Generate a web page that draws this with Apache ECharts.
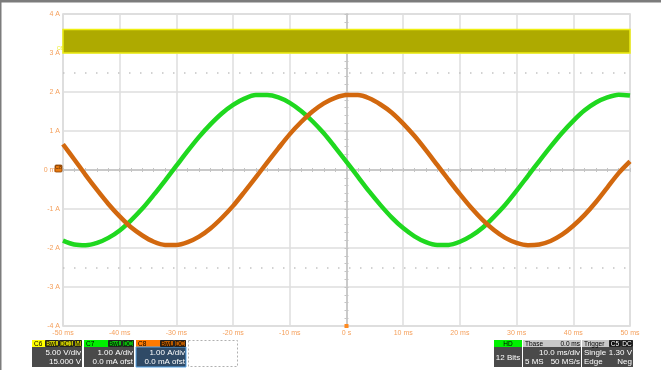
<!DOCTYPE html>
<html>
<head>
<meta charset="utf-8">
<script src="https://cdn.jsdelivr.net/npm/echarts@6/dist/echarts.min.js"></script>
<style>
  html, body { margin: 0; padding: 0; background: #fff; }
  #main { width: 661px; height: 370px; }
</style>
</head>
<body>
<div id="main"></div>
<script>
// time axis (ms) and traces
var times = [-50, -48, -46, -44, -42, -40, -38, -36, -34, -32, -30, -28, -26, -24, -22, -20, -18, -16, -14, -12, -10,
    -8, -6, -4, -2, 0, 2, 4, 6, 8, 10, 12, 14, 16, 18, 20, 22, 24, 26, 28, 30, 32, 34, 36, 38, 40, 42, 44, 46, 48, 50];
// C7 (green), A
var c7 = [-1.81, -1.91, -1.93, -1.87, -1.74, -1.55, -1.29, -0.99, -0.64, -0.27, 0.11, 0.49, 0.85, 1.17, 1.45, 1.67,
    1.83, 1.92, 1.92, 1.86, 1.72, 1.51, 1.25, 0.94, 0.58, 0.21, -0.17, -0.55, -0.90, -1.22, -1.49, -1.70, -1.85, -1.92,
    -1.92, -1.84, -1.69, -1.48, -1.20, -0.89, -0.53, -0.15, 0.23, 0.60, 0.95, 1.26, 1.53, 1.73, 1.86, 1.93, 1.91];
// C8 (orange), A
var c8 = [0.66, 0.27, -0.13, -0.51, -0.87, -1.19, -1.47, -1.68, -1.84, -1.92, -1.92, -1.85, -1.71, -1.50, -1.23, -0.92,
    -0.56, -0.19, 0.19, 0.56, 0.92, 1.23, 1.50, 1.71, 1.85, 1.92, 1.92, 1.84, 1.68, 1.47, 1.19, 0.87, 0.51, 0.13, -0.25,
    -0.62, -0.97, -1.28, -1.54, -1.74, -1.87, -1.93, -1.91, -1.82, -1.66, -1.43, -1.15, -0.82, -0.45, -0.08, 0.22];
// C6 (yellow) band, shown on the A scale
var c6Low = 3.0;
var c6High = 3.6;
// dotted level lines
var levels = [2.5, -2.5];

var xMin = -50, xMax = 50, xStep = 10;
var yMin = -4, yMax = 4, yStep = 1;

function pairs(vals) {
    return times.map(function (t, i) { return [t, vals[i]]; });
}

var labelColor = '#f5a05c';
var myChart = echarts.init(document.getElementById('main'));

var centerAxisX = function (inside) {
    return {
        type: 'value', min: xMin, max: xMax, interval: xStep,
        axisLine: {show: true, onZero: true, onZeroAxisIndex: 0, lineStyle: {color: '#c8c8c8', width: 1.5}},
        axisTick: {show: true, inside: inside, length: 2, lineStyle: {color: '#c4c4c4'}},
        minorTick: {show: true, splitNumber: 5, length: 2, lineStyle: {color: '#c4c4c4'}},
        axisLabel: {show: false}, splitLine: {show: false}
    };
};
var centerAxisY = function (inside) {
    return {
        type: 'value', min: yMin, max: yMax, interval: yStep,
        axisLine: {show: true, onZero: true, onZeroAxisIndex: 0, lineStyle: {color: '#c8c8c8', width: 1.5}},
        axisTick: {show: true, inside: inside, length: 2, lineStyle: {color: '#c4c4c4'}},
        minorTick: {show: true, splitNumber: 5, length: 2, lineStyle: {color: '#c4c4c4'}},
        axisLabel: {show: false}, splitLine: {show: false}
    };
};

// bottom info boxes
var font = '8px "Liberation Sans", Arial, sans-serif';
var hfont = '6.5px "Liberation Sans", Arial, sans-serif';
function ltxt(x, y, s, color, f) {
    return {type: 'text', x: x, y: y, style: {text: s, fill: color || '#fff', font: f || font}};
}
function rtxt(x, y, s, color, f) {
    return {type: 'text', x: x, y: y, style: {text: s, fill: color || '#fff', font: f || font, align: 'right'}};
}
function box(x, y, w, h, fill, stroke) {
    return {type: 'rect', shape: {x: x, y: y, width: w, height: h},
        style: {fill: fill, stroke: stroke || null, lineWidth: stroke ? 1 : 0}};
}
function cell(x, y, w, s, fill, color) {
    return [
        box(x + 0.5, y + 0.5, w - 1, 6, fill, '#222'),
        {type: 'text', x: x + w / 2, y: y + 0.8, style: {text: s, fill: color, font: hfont, align: 'center'}}
    ];
}

var panels = [].concat(
    // C6
    box(32, 340, 50, 7, '#ffff00'), box(32, 347, 50, 20, '#4a4a4a'),
    ltxt(34, 340.8, 'C6', '#000', hfont),
    cell(45, 340, 14, 'BwL', '#c4c400', '#000'), cell(59, 340, 15, 'DC1', '#c4c400', '#000'),
    cell(74, 340, 8, 'M', '#c4c400', '#000'),
    rtxt(81, 349, '5.00 V/div'), rtxt(81, 358, '15.000 V'),
    // C7
    box(84, 340, 50, 7, '#00f000'), box(84, 347, 50, 20, '#4a4a4a'),
    ltxt(86, 340.8, 'C7', '#000', hfont),
    cell(108, 340, 14, 'BwL', '#0cb80c', '#000'), cell(122, 340, 12, 'DC', '#0cb80c', '#000'),
    rtxt(133, 349, '1.00 A/div'), rtxt(133, 358, '0.0 mA ofst'),
    // C8
    box(136, 340, 50, 7, '#ff7a00'), box(136, 347, 50, 20, '#2f4a66', '#5aa6e6'),
    ltxt(138, 340.8, 'C8', '#000', hfont),
    cell(160, 340, 14, 'BwL', '#b85a00', '#000'), cell(174, 340, 12, 'DC', '#b85a00', '#000'),
    rtxt(185, 349, '1.00 A/div'), rtxt(185, 358, '0.0 mA ofst'),
    // empty slot
    {type: 'rect', shape: {x: 188.5, y: 340.5, width: 49, height: 26},
        style: {fill: null, stroke: '#b0b0b0', lineWidth: 1, lineDash: [2, 2]}},
    // HD
    box(494, 340, 28, 7, '#00f000'), box(494, 347, 28, 20, '#4a4a4a'),
    {type: 'text', x: 508, y: 340.8, style: {text: 'HD', fill: '#000', font: hfont, align: 'center'}},
    {type: 'text', x: 508, y: 354, style: {text: '12 Bits', fill: '#fff', font: font, align: 'center'}},
    // Tbase
    box(523, 340, 58, 7, '#c8c8c8'), box(523, 347, 58, 20, '#4a4a4a'),
    ltxt(525, 340.8, 'Tbase', '#000', hfont),
    rtxt(580, 340.8, '0.0 ms', '#000', hfont),
    rtxt(580, 349, '10.0 ms/div'),
    ltxt(525, 358, '5 MS'),
    rtxt(580, 358, '50 MS/s'),
    // Trigger
    box(582, 340, 51, 7, '#c8c8c8'), box(582, 347, 51, 20, '#4a4a4a'),
    ltxt(584, 340.8, 'Trigger', '#000', hfont),
    cell(609, 340, 12, 'C5', '#111', '#fff'), cell(621, 340, 12, 'DC', '#111', '#fff'),
    ltxt(584, 349, 'Single'),
    rtxt(632, 349, '1.30 V'),
    ltxt(584, 358, 'Edge'),
    rtxt(632, 358, 'Neg'),
    // window frame
    box(0, 0, 661, 2.5, '#7c7c7c'), box(0, 0, 1.5, 370, '#7c7c7c')
);

var option = {
    animation: false,
    backgroundColor: '#ffffff',
    grid: {left: 63, right: 31, top: 14, bottom: 44, show: true, borderColor: '#d6d6d6', borderWidth: 1.5},
    xAxis: [
        {
            type: 'value', min: xMin, max: xMax, interval: xStep, position: 'bottom',
            axisLine: {show: false}, axisTick: {show: false},
            axisLabel: {
                color: labelColor, fontSize: 7, margin: 4, fontFamily: 'Liberation Sans, Arial',
                formatter: function (v) { return v === 0 ? '0 s' : v + ' ms'; }
            },
            splitLine: {show: true, lineStyle: {color: '#dedede', width: 1.5}}
        },
        centerAxisX(true),
        centerAxisX(false)
    ],
    yAxis: [
        {
            type: 'value', min: yMin, max: yMax, interval: yStep,
            axisLine: {show: false}, axisTick: {show: false},
            axisLabel: {
                color: labelColor, fontSize: 7, margin: 3, fontFamily: 'Liberation Sans, Arial',
                formatter: function (v) { return v === 0 ? '0 mA' : v + ' A'; }
            },
            splitLine: {show: true, lineStyle: {color: '#dedede', width: 1.5}}
        },
        centerAxisY(true),
        centerAxisY(false)
    ],
    series: [
        {
            name: 'C6', type: 'line', data: [], silent: true,
            markArea: {
                silent: true,
                itemStyle: {color: '#aeaa00', borderColor: '#eeee10', borderWidth: 1.5},
                data: [[{coord: [xMin, c6High]}, {coord: [xMax, c6Low]}]]
            },
            markLine: {
                silent: true, symbol: 'none', label: {show: false},
                lineStyle: {color: '#c4c4c4', width: 1.5, type: [1.5, 9.5]},
                data: levels.map(function (v) { return {yAxis: v}; })
            }
        },
        {
            name: 'C7', type: 'line', data: pairs(c7), smooth: 0.3, showSymbol: false, z: 3,
            lineStyle: {color: '#1fd81f', width: 4.5}
        },
        {
            name: 'C8', type: 'line', data: pairs(c8), smooth: 0.3, showSymbol: false, z: 4,
            lineStyle: {color: '#d2680e', width: 4.5}
        }
    ],
    graphic: panels
};
option && myChart.setOption(option);

// channel / trigger markers placed from the axes
var p0 = myChart.convertToPixel({gridIndex: 0}, [xMin, 0]);
var p6 = myChart.convertToPixel({gridIndex: 0}, [xMin, c6Low]);
var pt = myChart.convertToPixel({gridIndex: 0}, [0, yMin]);
myChart.setOption({
    graphic: panels.concat([
        {type: 'rect', shape: {x: p0[0] - 8, y: p0[1] - 5, width: 7, height: 7, r: 1},
            style: {fill: '#e87a10', stroke: '#8a4000', lineWidth: 0.8}, z: 10},
        {type: 'text', x: p0[0] - 4.5, y: p0[1] - 4.5,
            style: {text: 'C8', fill: '#5a2a00', font: '5px sans-serif', align: 'center'}, z: 11},
        {type: 'text', x: p6[0] - 6, y: p6[1] - 7,
            style: {text: 'C6', fill: '#eeee20', font: '5px sans-serif'}, z: 11},
        {type: 'rect', shape: {x: pt[0] - 2, y: pt[1] - 2, width: 4, height: 4},
            style: {fill: '#ff8a20'}, z: 10}
    ])
});
</script>
</body>
</html>
